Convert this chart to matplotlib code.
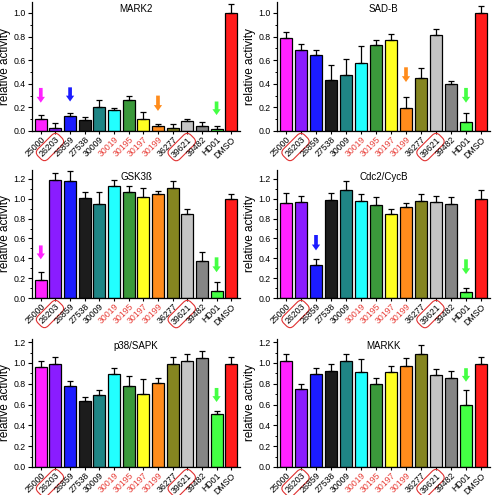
import numpy as np
import matplotlib
matplotlib.use("Agg")
import matplotlib.pyplot as plt
from matplotlib.ticker import MultipleLocator

plt.rcParams['font.family'] = ['Liberation Sans', 'DejaVu Sans']

# === Daten ===
compounds = ["25000", "26203", "26859", "27538", "30009", "30019", "30195",
             "30197", "30199", "36277", "39621", "39482", "HD01", "DMSO"]
red_labels = ["30019", "30195", "30197", "30199"]
circled = ["26203", "39621"]
bar_colors = ["#ff22ff", "#8a1cff", "#1c1cff", "#1c1c1c", "#1f8585", "#22ffff",
              "#3b993b", "#ffff22", "#ff8c1c", "#858520", "#c4c4c4", "#858585",
              "#44ff44", "#ff1c1c"]

mark2 = [0.105, 0.025, 0.125, 0.095, 0.205, 0.175, 0.265, 0.105, 0.045, 0.025, 0.085, 0.045, 0.015, 1.0]
mark2_err = [0.03, 0.04, 0.03, 0.02, 0.055, 0.02, 0.035, 0.055, 0.015, 0.035, 0.015, 0.03, 0.03, 0.08]

sadb = [0.79, 0.69, 0.645, 0.43, 0.475, 0.58, 0.725, 0.77, 0.195, 0.445, 0.81, 0.395, 0.08, 1.0]
sadb_err = [0.05, 0.045, 0.045, 0.13, 0.135, 0.14, 0.045, 0.05, 0.095, 0.085, 0.055, 0.025, 0.07, 0.06]

gsk3b = [0.18, 1.19, 1.175, 1.01, 0.945, 1.125, 1.07, 1.015, 1.045, 1.105, 0.85, 0.375, 0.07, 1.0]
gsk3b_err = [0.08, 0.07, 0.105, 0.055, 0.12, 0.065, 0.06, 0.095, 0.035, 0.07, 0.045, 0.085, 0.09, 0.05]

cdc2 = [0.96, 0.97, 0.33, 0.99, 1.09, 0.98, 0.935, 0.85, 0.915, 0.98, 0.965, 0.945, 0.06, 1.0]
cdc2_err = [0.1, 0.06, 0.065, 0.065, 0.085, 0.065, 0.08, 0.05, 0.04, 0.065, 0.06, 0.07, 0.04, 0.09]

p38 = [0.96, 0.99, 0.775, 0.63, 0.695, 0.895, 0.775, 0.70, 0.81, 0.995, 1.02, 1.05, 0.505, 0.995]
p38_err = [0.06, 0.065, 0.05, 0.04, 0.045, 0.055, 0.1, 0.145, 0.05, 0.065, 0.065, 0.065, 0.035, 0.065]

markk = [1.015, 0.75, 0.89, 0.925, 1.015, 0.91, 0.80, 0.91, 0.975, 1.09, 0.88, 0.86, 0.595, 0.995]
markk_err = [0.07, 0.05, 0.065, 0.065, 0.07, 0.125, 0.06, 0.065, 0.07, 0.085, 0.06, 0.06, 0.145, 0.065]

# Pfeile: (Index, y_start, y_ende)
mark2_arrows = [(0, 0.365, 0.24), (2, 0.37, 0.25), (8, 0.30, 0.17), (12, 0.25, 0.135)]
sadb_arrows = [(8, 0.54, 0.415), (12, 0.365, 0.24)]
gsk3b_arrows = [(0, 0.53, 0.39), (12, 0.41, 0.26)]
cdc2_arrows = [(2, 0.635, 0.48), (12, 0.39, 0.24)]
p38_arrows = [(12, 0.76, 0.625)]
markk_arrows = [(12, 0.95, 0.82)]

panels = [
    ("MARK2", mark2, mark2_err, mark2_arrows, 1.09),
    ("SAD-B", sadb, sadb_err, sadb_arrows, 1.09),
    ("GSK3ß", gsk3b, gsk3b_err, gsk3b_arrows, 1.29),
    ("Cdc2/CycB", cdc2, cdc2_err, cdc2_arrows, 1.29),
    ("p38/SAPK", p38, p38_err, p38_arrows, 1.23),
    ("MARKK", markk, markk_err, markk_arrows, 1.23),
]

# Achsenpositionen in Pixel (links, rechts, y0-Pixel, Pixel pro 1.0)
W, H = 492, 495
layout = [
    (32, 240, 131, 118),
    (277, 490, 131, 118),
    (32, 240, 298, 99.2),
    (277, 490, 298, 99.2),
    (32, 240, 467, 104),
    (277, 490, 467, 104),
]

fig = plt.figure(figsize=(W / 100, H / 100), dpi=100)

x = np.arange(len(compounds))
for (title, vals, errs, arrows, ytop), (xl, xr, y0, ppu) in zip(panels, layout):
    hgt = ytop * ppu
    ax = fig.add_axes([xl / W, (H - y0) / H, (xr - xl) / W, hgt / H])
    ax.bar(x, vals, width=0.82, color=bar_colors, edgecolor="black", linewidth=0.9, zorder=2)
    ax.errorbar(x, vals, yerr=[np.zeros(len(vals)), errs], fmt="none", ecolor="black",
                elinewidth=0.9, capsize=2.5, capthick=0.9, zorder=3)
    for i, ys, ye in arrows:
        ax.annotate("", xy=(i, ye), xytext=(i, ys),
                    arrowprops=dict(arrowstyle="simple,head_width=0.85,head_length=0.6,tail_width=0.38",
                                    mutation_scale=7, shrinkA=0, shrinkB=0,
                                    color=bar_colors[i], lw=0))
    ax.set_xlim(-0.6, len(compounds) - 0.4)
    ax.set_ylim(0, ytop)
    ax.yaxis.set_major_locator(MultipleLocator(0.2))
    ax.yaxis.set_minor_locator(MultipleLocator(0.1))
    ax.yaxis.set_major_formatter(plt.FuncFormatter(lambda v, p: f"{v:.1f}"))
    ax.tick_params(axis="y", labelsize=6.3, length=3, width=0.8, pad=1.5)
    ax.tick_params(axis="y", which="minor", length=1.8, width=0.7)
    ax.tick_params(axis="x", length=2, width=0.8, pad=1)
    ax.spines["top"].set_visible(False)
    ax.spines["right"].set_visible(False)
    ax.spines["left"].set_linewidth(0.9)
    ax.spines["bottom"].set_linewidth(0.9)
    ax.set_xticks(x)
    ax.set_xticklabels(compounds, rotation=45, ha="right", rotation_mode="anchor", fontsize=6.3)
    for lbl in ax.get_xticklabels():
        t = lbl.get_text()
        if t in red_labels:
            lbl.set_color("#e8403a")
        if t in circled:
            lbl.set_bbox(dict(boxstyle="round,pad=0.3,rounding_size=0.6", fc="none",
                              ec="#e03030", lw=0.8))
    ax.set_ylabel("relative activity", fontsize=8.5, labelpad=2)
    ax.text(0.5, 0.985, title, transform=ax.transAxes, ha="center", va="top", fontsize=7)

fig.savefig("out.png", dpi=100)
